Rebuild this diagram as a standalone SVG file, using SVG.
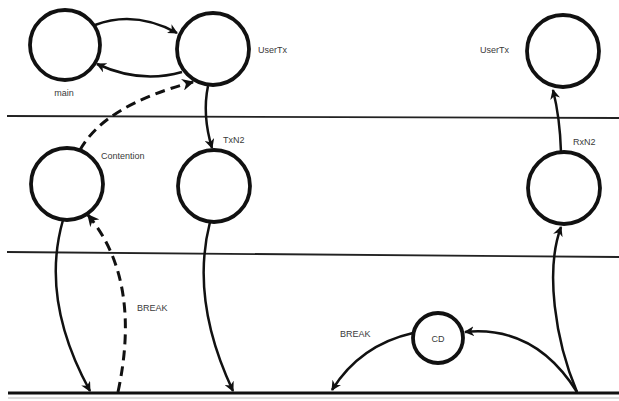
<svg xmlns="http://www.w3.org/2000/svg" width="619" height="401" viewBox="0 0 619 401">
  <style>
    .node { fill: #fff; stroke: #111; stroke-width: 3.8; }
    .lbl { font-family: "Liberation Sans", Arial, sans-serif; font-size: 9px; fill: #3a3a3a; }
    .edge { fill: none; stroke: #111; stroke-width: 2.5; marker-end: url(#arr); }
    .dash { stroke-dasharray: 10 6; stroke-width: 3; }
    .lane { stroke: #222; stroke-width: 1.8; fill: none; }
  </style>
  <defs>
    <marker id="arr" viewBox="0 0 10 10" refX="9" refY="5" markerWidth="4" markerHeight="4" orient="auto" markerUnits="strokeWidth">
      <path d="M0,0 L10,5 L0,10 L3,5 Z" fill="#111"/>
    </marker>
  </defs>
  <rect width="619" height="401" fill="#fff"/>

  <!-- layer boundaries -->
  <g id="lanes">
    <line class="lane" x1="7" y1="116" x2="619" y2="118"/>
    <line class="lane" x1="7" y1="252" x2="619" y2="257"/>
    <line x1="8" y1="393" x2="619" y2="393" stroke="#111" stroke-width="3"/>
    <line x1="8" y1="398" x2="619" y2="398" stroke="#bbb" stroke-width="1"/>
  </g>

  <!-- connectors -->
  <g id="connectors">
    <path class="edge" d="M95,25 Q135,10 177,33"/>
    <path class="edge" d="M182,72 Q140,84 97,64"/>
    <path class="edge dash" d="M80,150 Q105,105 193,82"/>
    <path class="edge" d="M208,86 Q202,115 212,148"/>
    <path class="edge" d="M63,220 Q40,300 90,391"/>
    <path class="edge dash" d="M118,392 Q142,280 88,215"/>
    <path class="edge" d="M210,222 Q190,300 233,391"/>
    <path class="edge" d="M561,152 Q560,118 553,90"/>
    <path class="edge" d="M577,392 C555,340 545,270 561,227"/>
    <path class="edge" d="M577,392 Q535,325 465,332"/>
    <path class="edge" d="M413,333 Q360,345 332,390"/>
  </g>

  <!-- nodes -->
  <g id="main">
    <circle class="node" cx="65" cy="45" r="35"/>
    <text class="lbl" x="64" y="96" text-anchor="middle">main</text>
  </g>
  <g id="usertx-left">
    <circle class="node" cx="213" cy="49" r="36"/>
    <text class="lbl" x="258" y="53">UserTx</text>
  </g>
  <g id="contention">
    <circle class="node" cx="67" cy="184" r="36"/>
    <text class="lbl" x="101" y="159">Contention</text>
  </g>
  <g id="txn2">
    <circle class="node" cx="214" cy="186" r="36"/>
    <text class="lbl" x="223" y="143">TxN2</text>
  </g>
  <g id="usertx-right">
    <circle class="node" cx="563" cy="51" r="36"/>
    <text class="lbl" x="480" y="53">UserTx</text>
  </g>
  <g id="rxn2">
    <circle class="node" cx="564" cy="188" r="36"/>
    <text class="lbl" x="573" y="145">RxN2</text>
  </g>
  <g id="cd">
    <circle class="node" cx="438" cy="338" r="25"/>
    <text class="lbl" x="438" y="342" text-anchor="middle">CD</text>
  </g>

  <!-- edge labels -->
  <text class="lbl" x="137" y="311">BREAK</text>
  <text class="lbl" x="340" y="337">BREAK</text>
</svg>
